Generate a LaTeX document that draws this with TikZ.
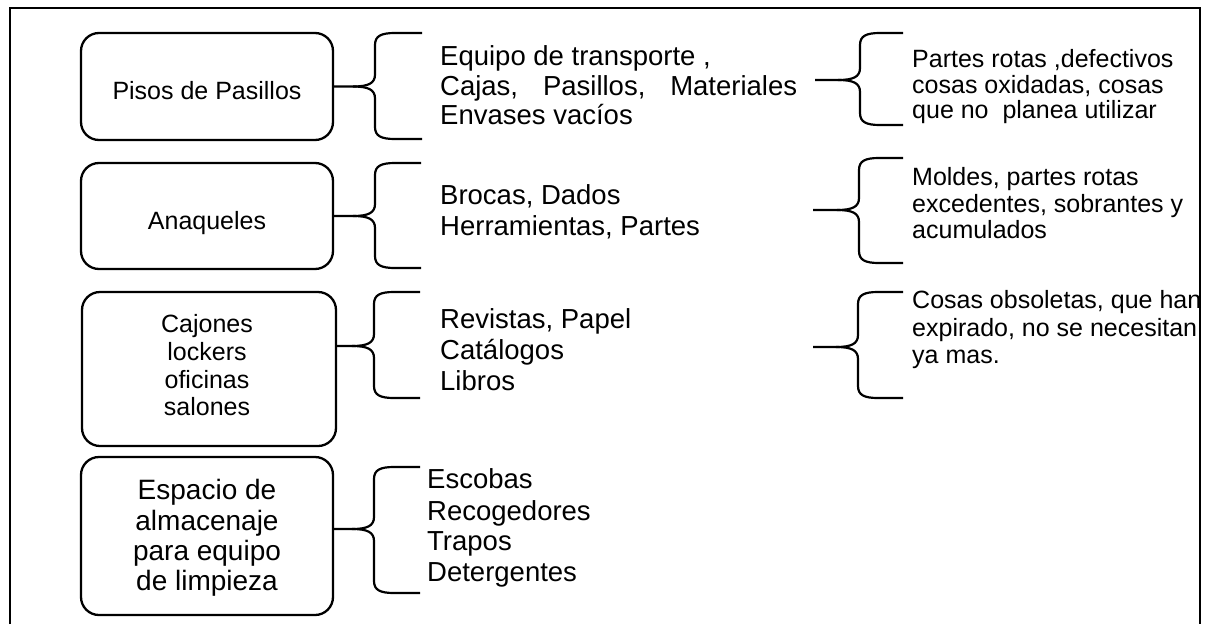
\documentclass[tikz,border=0pt]{standalone}
\usepackage{fontspec}
\setmainfont{Liberation Sans}
\newcommand{\drawbrace}[6]{%
 \draw[ln] (#1) -- (#3-22,#2) .. controls (#3-7,#2) and (#3,#2-3) .. (#3,#2-12) -- (#3,#4+12) .. controls (#3,#4+3) and (#3+6,#4) .. (#3+20,#4) -- (#6,#4);
 \draw[ln] (#3-22,#2) .. controls (#3-7,#2) and (#3,#2+3) .. (#3,#2+12) -- (#3,#5-12) .. controls (#3,#5-3) and (#3+6,#5) .. (#3+20,#5) -- (#6,#5);
}
\begin{document}
\begin{tikzpicture}[x=1pt,y=-1pt,
  box/.style={draw, line width=2.3pt, rounded corners=18pt, inner sep=0pt},
  ln/.style={line width=2.2pt},
  frame/.style={line width=2.4pt},
  ta/.style={anchor=base west, inner sep=0pt, font=\fontsize{27.5}{30}\selectfont},
  tb/.style={anchor=base west, inner sep=0pt, font=\fontsize{25}{28}\selectfont},
  bt/.style={anchor=base, inner sep=0pt, font=\fontsize{25}{28}\selectfont},
  bt4/.style={anchor=base, inner sep=0pt, font=\fontsize{28}{30}\selectfont}]
\useasboundingbox (0,0) rectangle (1214,624);
\fill[white] (0,0) rectangle (1214,624);
\draw[frame] (10,624) -- (10,8) -- (1200,8) -- (1200,624);

% boxes
\node[box, minimum width=252pt, minimum height=107pt] (b1) at (207,86.5) {};
\node[box, minimum width=252pt, minimum height=106pt] (b2) at (207,216) {};
\node[box, minimum width=254pt, minimum height=154pt] (b3) at (209,369) {};
\node[box, minimum width=252pt, minimum height=158pt] (b4) at (207,536) {};

% box texts
\node[bt] (p1) at (207,99) {Pisos de Pasillos};
\node[bt] (p2) at (207,229) {Anaqueles};
\node[bt] (p3a) at (207,332) {Cajones};
\node[bt] (p3b) at (207,360) {lockers};
\node[bt] (p3c) at (207,388) {oficinas};
\node[bt] (p3d) at (207,415) {salones};
\node[bt4] (p4a) at (207,499) {Espacio de};
\node[bt4] (p4b) at (207,530) {almacenaje};
\node[bt4] (p4c) at (207,560) {para equipo};
\node[bt4] (p4d) at (207,590) {de limpieza};

% column 1 texts
\node[ta] (a1a) at (440,65) {Equipo de transporte ,};
\node[ta] (a1b) at (440,95) {\makebox[357pt][s]{Cajas, Pasillos, Materiales}};
\node[ta] (a1c) at (440,124) {Envases vacíos};
\node[ta] (a2a) at (440,204) {Brocas, Dados};
\node[ta] (a2b) at (440,235) {Herramientas, Partes};
\node[ta] (a3a) at (440,328) {Revistas, Papel};
\node[ta] (a3b) at (440,359) {Catálogos};
\node[ta] (a3c) at (440,390) {Libros};
\node[ta] (a4a) at (427,488) {Escobas};
\node[ta] (a4b) at (427,520) {Recogedores};
\node[ta] (a4c) at (427,550) {Trapos};
\node[ta] (a4d) at (427,581) {Detergentes};

% column 2 texts
\node[tb] (c1a) at (912,67) {Partes rotas ,defectivos};
\node[tb] (c1b) at (912,93) {cosas oxidadas, cosas};
\node[tb] (c1c) at (912,118) {que no\ \ planea utilizar};
\node[tb] (c2a) at (912,185) {Moldes, partes rotas};
\node[tb] (c2b) at (912,212) {excedentes, sobrantes y};
\node[tb] (c2c) at (912,238) {acumulados};
\node[tb] (c3a) at (912,308) {Cosas obsoletas, que han};
\node[tb] (c3b) at (912,336) {expirado, no se necesitan};
\node[tb] (c3c) at (912,363) {ya mas.};

% brace anchor points
\coordinate (y3) at (0,346);
\coordinate (y4) at (0,529);
\coordinate (k1) at (815,80);
\coordinate (k2) at (813,210);
\coordinate (k3) at (813,347);

% braces, column 1
\drawbrace{b1.east}{86.5}{375}{33}{139}{422}
\drawbrace{b2.east}{216}{375}{163}{268}{421}
\drawbrace{b3.east |- y3}{346}{374}{292}{398}{420}
\drawbrace{b4.east |- y4}{529}{374}{467}{593}{420}
% braces, column 2
\drawbrace{k1}{80}{860}{33}{125}{903}
\drawbrace{k2}{210}{859}{158}{263}{903}
\drawbrace{k3}{347}{858}{292}{398}{903}
\end{tikzpicture}
\end{document}
